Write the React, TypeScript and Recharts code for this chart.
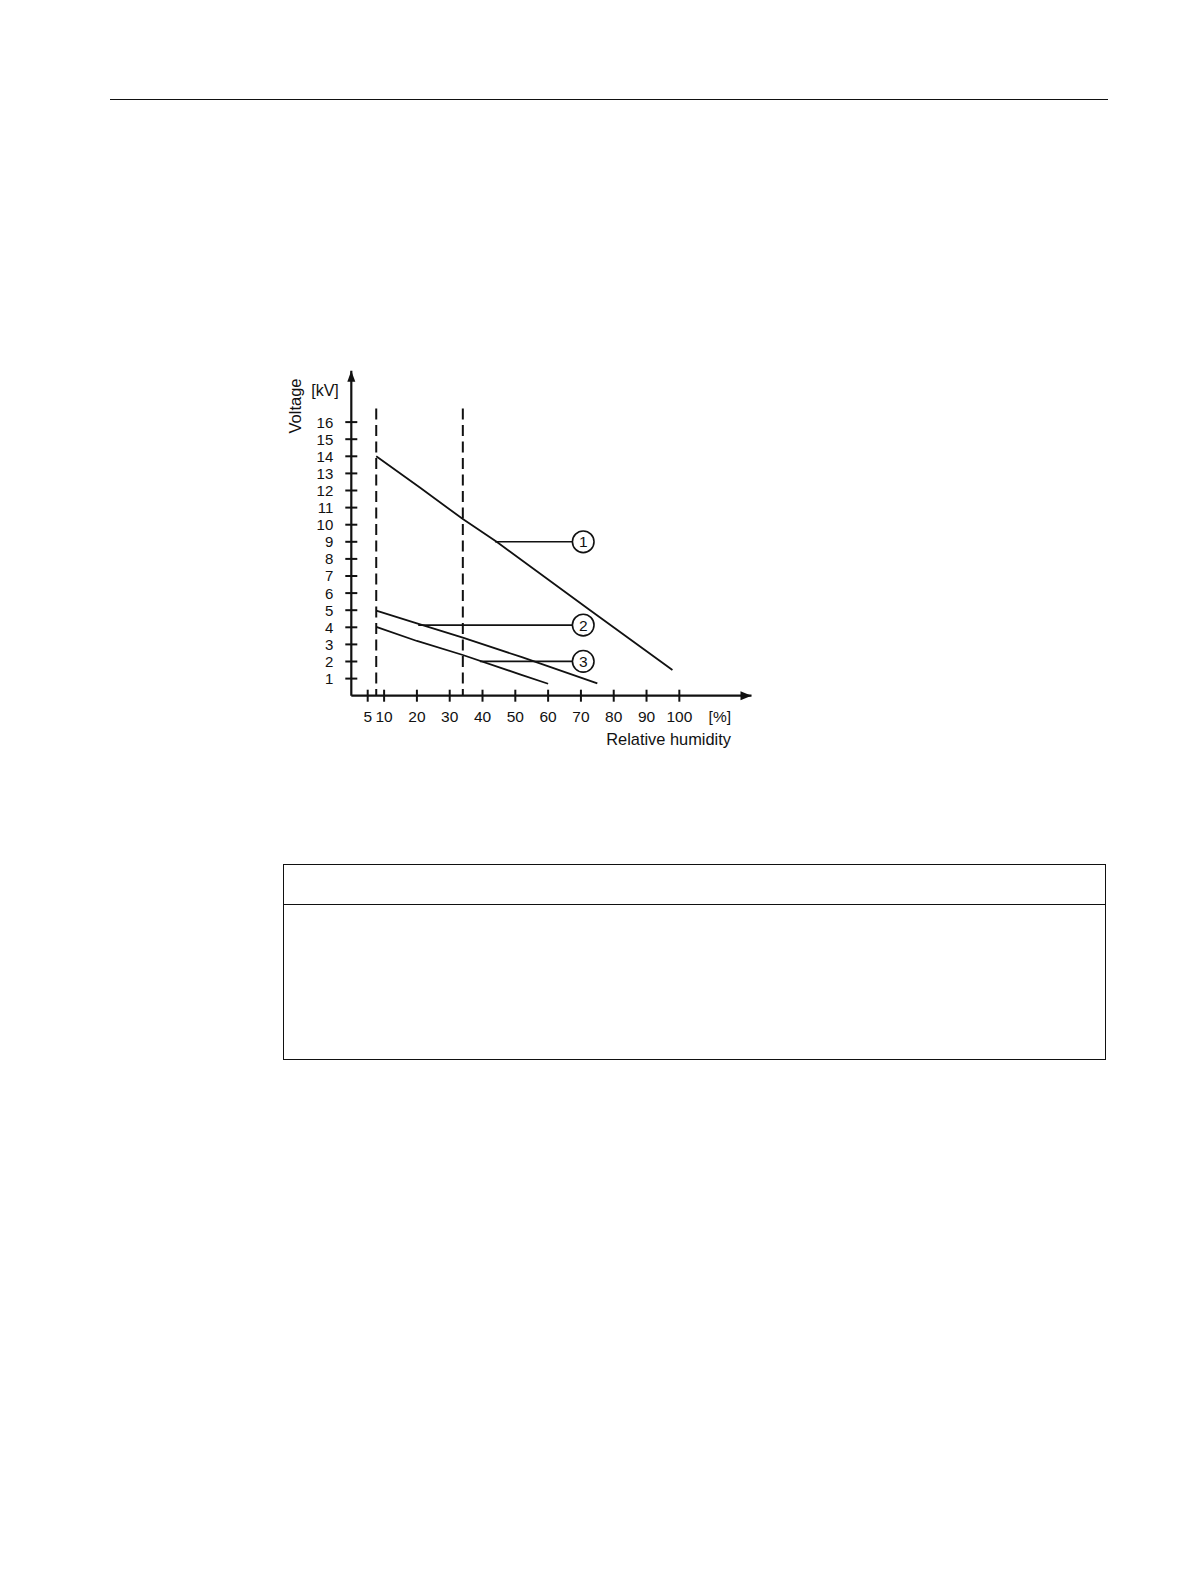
import React from 'react';
import { LineChart, Line, XAxis, YAxis, ReferenceLine, ReferenceDot } from 'recharts';

const humidityTicks = [5, 10, 20, 30, 40, 50, 60, 70, 80, 90, 100];
const voltageTicks = [1, 2, 3, 4, 5, 6, 7, 8, 9, 10, 11, 12, 13, 14, 15, 16];

// curves: x = relative humidity [%], y = voltage [kV]
const curve1 = [
  { x: 7.6, y: 14.0 },
  { x: 20.9, y: 12.17 },
  { x: 34, y: 10.33 },
  { x: 44.3, y: 9.0 },
  { x: 72.8, y: 5.0 },
  { x: 97.9, y: 1.5 },
];
const curve2 = [
  { x: 7.6, y: 4.97 },
  { x: 20, y: 4.23 },
  { x: 34, y: 3.39 },
  { x: 52, y: 2.25 },
  { x: 75, y: 0.72 },
];
const curve3 = [
  { x: 7.6, y: 4.02 },
  { x: 20, y: 3.2 },
  { x: 34, y: 2.38 },
  { x: 51.4, y: 1.25 },
  { x: 60, y: 0.7 },
];

const dashedAt = [7.6, 34];
const dashedTop = 16.8;

const callouts = [
  { id: '1', fromX: 43.8, y: 9.0 },
  { id: '2', fromX: 20.4, y: 4.13 },
  { id: '3', fromX: 39.2, y: 2.01 },
];
const calloutX = 70.7;
const calloutEdgeX = 67.4;

const ink = '#111';
const font = '"Liberation Sans", Arial, sans-serif';

const XTick = (props: any) => {
  const { x, y, payload } = props;
  return (
    <g>
      <line x1={x} x2={x} y1={y - 6} y2={y + 6} stroke={ink} strokeWidth={2} />
      <text x={x} y={y + 26} textAnchor="middle" fontSize={15.5} fill={ink} fontFamily={font}>
        {payload.value}
      </text>
    </g>
  );
};

const YTick = (props: any) => {
  const { x, y, payload } = props;
  return (
    <g>
      <line x1={x - 6} x2={x + 6} y1={y} y2={y} stroke={ink} strokeWidth={2} />
      <text x={x - 18} y={y} dy="0.36em" textAnchor="end" fontSize={15} fill={ink} fontFamily={font}>
        {payload.value}
      </text>
    </g>
  );
};

const Bubble = (props: any) => {
  const { cx, cy, label } = props;
  return (
    <g>
      <circle cx={cx} cy={cy} r={10.8} fill="#fff" stroke={ink} strokeWidth={1.6} />
      <text x={cx} y={cy} dy="0.36em" textAnchor="middle" fontSize={15.5} fill={ink} fontFamily={font}>
        {label}
      </text>
    </g>
  );
};

const ArrowRight = (props: any) => {
  const { cx, cy } = props;
  return <path d={`M${cx},${cy} L${cx - 11},${cy - 4.5} L${cx - 11},${cy + 4.5} Z`} fill={ink} />;
};

const ArrowUp = (props: any) => {
  const { cx, cy } = props;
  return <path d={`M${cx},${cy} L${cx - 4},${cy + 11} L${cx + 4},${cy + 11} Z`} fill={ink} />;
};

export default function App() {
  return (
    <div
      style={{
        position: 'absolute',
        left: 0,
        top: 0,
        width: 1191,
        height: 1587,
        background: '#fff',
        fontFamily: font,
        color: ink,
      }}
    >
      {/* page header rule */}
      <div style={{ position: 'absolute', left: 110, top: 98.5, width: 998, height: 1.5, background: ink }} />

      <div style={{ position: 'absolute', left: 0, top: 0 }}>
        <LineChart width={1191} height={800} margin={{ top: 370.8, right: 439.5, bottom: 74.3, left: 291.3 }}>
          <XAxis
            type="number"
            dataKey="x"
            domain={[0, 122]}
            ticks={humidityTicks}
            interval={0}
            tickSize={0}
            tickMargin={0}
            tickLine={false}
            tick={<XTick />}
            height={30}
            axisLine={{ stroke: ink, strokeWidth: 2.2 }}
          />
          <YAxis
            type="number"
            domain={[0, 19]}
            ticks={voltageTicks}
            interval={0}
            tickSize={0}
            tickMargin={0}
            tickLine={false}
            tick={<YTick />}
            width={60}
            axisLine={{ stroke: ink, strokeWidth: 2.2 }}
          />
          {dashedAt.map((x) => (
            <ReferenceLine
              key={x}
              segment={[{ x, y: dashedTop }, { x, y: 0 }]}
              stroke={ink}
              strokeWidth={2}
              strokeDasharray="11 5.5"
            />
          ))}
          <Line data={curve1} dataKey="y" type="linear" stroke={ink} strokeWidth={1.8} dot={false} isAnimationActive={false} />
          <Line data={curve2} dataKey="y" type="linear" stroke={ink} strokeWidth={1.8} dot={false} isAnimationActive={false} />
          <Line data={curve3} dataKey="y" type="linear" stroke={ink} strokeWidth={1.8} dot={false} isAnimationActive={false} />
          {callouts.map((c) => (
            <ReferenceLine
              key={'l' + c.id}
              segment={[{ x: c.fromX, y: c.y }, { x: calloutEdgeX, y: c.y }]}
              stroke={ink}
              strokeWidth={1.6}
            />
          ))}
          {callouts.map((c) => (
            <ReferenceDot key={'c' + c.id} x={calloutX} y={c.y} r={10.8} shape={<Bubble label={c.id} />} />
          ))}
          <ReferenceDot x={122} y={0} r={1} shape={<ArrowRight />} />
          <ReferenceDot x={0} y={19} r={1} shape={<ArrowUp />} />
        </LineChart>
      </div>

      {/* axis titles */}
      <svg width={1191} height={800} style={{ position: 'absolute', left: 0, top: 0, pointerEvents: 'none' }}>
        <text
          x={295}
          y={406}
          transform="rotate(-90 295 406)"
          textAnchor="middle"
          dominantBaseline="central"
          fontSize={16.5}
          fill={ink}
          fontFamily={font}
        >
          Voltage
        </text>
        <text x={325} y={395.5} textAnchor="middle" fontSize={16} fill={ink} fontFamily={font}>
          [kV]
        </text>
        <text x={731} y={722} textAnchor="end" fontSize={15.5} fill={ink} fontFamily={font}>
          [%]
        </text>
        <text x={731} y={744.5} textAnchor="end" fontSize={16.4} fill={ink} fontFamily={font}>
          Relative humidity
        </text>
      </svg>

      {/* table box below the figure */}
      <div
        style={{
          position: 'absolute',
          left: 283,
          top: 864,
          width: 823,
          height: 196,
          border: `1.5px solid ${ink}`,
          boxSizing: 'border-box',
        }}
      >
        <div style={{ position: 'absolute', left: 0, right: 0, top: 38.5, height: 1.5, background: ink }} />
      </div>
    </div>
  );
}
